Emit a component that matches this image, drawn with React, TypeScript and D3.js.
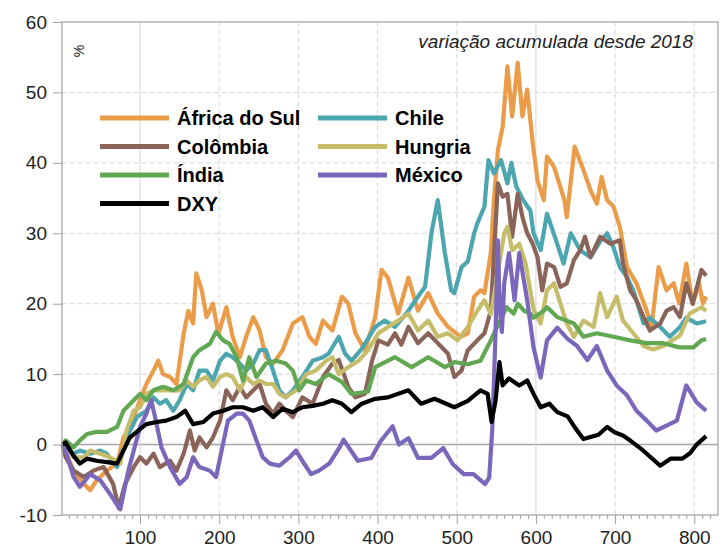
import React, { useEffect, useRef } from "react";
import * as d3 from "d3";

// observation number, cumulative change (%)
const africaDoSul: [number, number][] = [
  [2, 0], [16, -3.7], [29, -5.6], [37, -6.5], [45, -5.1], [58, -3.7], [71, -2.7], [79, 1], [87, 2.5],
  [100, 6.3], [108, 8.6], [117, 10.5], [123, 11.9], [129, 10], [138, 9.6], [146, 8.6], [155, 15.7],
  [161, 19], [167, 17.2], [171, 24.3], [178, 21.9], [184, 18.1], [192, 20], [199, 15.7], [209, 19.5],
  [217, 15.3], [226, 12.4], [234, 15.3], [243, 18.1], [251, 16.2], [259, 12.4], [268, 11.5], [280, 13.4],
  [293, 17.2], [305, 18.1], [314, 15.3], [322, 14.3], [331, 17.6], [343, 16.2], [355, 21], [363, 20],
  [372, 15.8], [384, 13.4], [397, 18.1], [405, 24.8], [413, 23.7], [426, 18.6], [439, 23.7], [451, 19],
  [464, 21.5], [476, 18.6], [489, 16.7], [505, 15.3], [514, 15.8], [522, 21], [530, 21.9], [535, 21.5],
  [543, 27.2], [547, 34.7], [552, 41.8], [558, 45.1], [564, 53.7], [570, 46.6], [577, 54.2], [583, 46.6],
  [589, 50.4], [596, 42.8], [602, 37.5], [610, 34.7], [614, 40.9], [623, 39.4], [636, 34.7], [639, 32.3],
  [649, 42.3], [660, 39], [669, 36.1], [677, 34.2], [683, 38], [690, 34.7], [698, 33.8], [706, 30.9],
  [715, 25.2], [727, 22.9], [740, 19], [746, 16.7], [755, 25.2], [765, 21.9], [774, 22.9], [781, 20],
  [790, 25.7], [798, 20], [806, 22.9], [811, 20], [815, 21],
];

const chile: [number, number][] = [
  [2, 0], [16, -1.3], [24, -0.85], [37, -1.3], [50, -0.85], [58, -1.3], [71, -3.2], [83, 1], [96, 3.9],
  [108, 4.8], [117, 6.7], [125, 5.8], [133, 6.3], [142, 4.8], [150, 6.3], [159, 8.6], [167, 7.7],
  [175, 10.5], [184, 10.5], [192, 9.1], [201, 11.9], [209, 12.9], [217, 12.4], [226, 11.5], [234, 10.5],
  [243, 11.5], [251, 13.4], [259, 13.4], [268, 10.5], [276, 7.7], [284, 6.7], [293, 7.7], [305, 9.6],
  [318, 11.9], [331, 12.4], [338, 12.9], [351, 15.3], [359, 12.9], [367, 11.9], [380, 13.6], [397, 16.7],
  [409, 17.6], [422, 16.7], [439, 19], [451, 21], [460, 22.4], [468, 30], [476, 34.7], [485, 27.2],
  [493, 21.9], [497, 21.5], [506, 25.2], [514, 26], [522, 30], [526, 31.4], [535, 33.8], [540, 40.4],
  [547, 38.5], [556, 40.4], [564, 37.1], [569, 40], [575, 36.7], [584, 34.7], [593, 33.2], [597, 30],
  [606, 27.6], [614, 32.8], [624, 29.5], [635, 25.7], [644, 30], [656, 27.6], [669, 26.6], [682, 29],
  [690, 30], [698, 28], [706, 25.2], [715, 23.8], [723, 21.9], [736, 17.2], [744, 18], [757, 16.7],
  [769, 15.3], [782, 16.7], [790, 18], [803, 17.2], [815, 17.5],
];

const colombia: [number, number][] = [
  [2, 0], [6, -1.8], [16, -3.7], [29, -4.6], [41, -3.7], [54, -3.2], [66, -5.6], [73, -9], [81, -5.6],
  [92, -3.2], [100, -1.8], [108, -2.7], [117, -1.3], [125, -3.2], [138, -2.3], [146, -3.7], [155, -1.3],
  [163, 2], [169, -0.85], [175, 1], [184, -0.4], [192, 1], [201, 3.4], [209, 7.7], [217, 6.3], [226, 8.2],
  [234, 6.7], [243, 7.7], [251, 8.6], [259, 5.8], [268, 4.4], [276, 5.8], [284, 4.8], [293, 3.9],
  [305, 6.7], [318, 5.8], [331, 9.6], [343, 11.5], [351, 12], [363, 8.2], [372, 6.7], [384, 7.2],
  [393, 11.9], [401, 14.8], [413, 14.2], [422, 15.8], [430, 14.2], [439, 16.7], [451, 14.4], [464, 15.8],
  [476, 14.4], [489, 12.9], [497, 9.6], [506, 10.5], [514, 13.4], [526, 14.8], [535, 15.8], [543, 19],
  [547, 27], [552, 37.1], [558, 35.2], [564, 35.6], [570, 29.5], [577, 35.6], [583, 32.3], [589, 30],
  [596, 28.5], [602, 26.6], [608, 21.9], [614, 25.7], [623, 25.2], [631, 22.4], [639, 22.9], [648, 26.2],
  [656, 27.6], [662, 29.5], [669, 26.6], [681, 29.5], [694, 28.5], [706, 29], [710, 25.7], [719, 21.9],
  [727, 20.5], [736, 18.1], [744, 16.2], [757, 17.2], [765, 19], [774, 19.5], [782, 18.1], [790, 22.9],
  [798, 20], [809, 24.8], [815, 24],
];

const hungria: [number, number][] = [
  [2, 0], [6, 0.3], [16, -1.8], [29, -1.8], [37, -0.85], [50, -1.3], [62, -1.8], [75, -2.7], [83, 2],
  [92, 4.8], [100, 5.3], [108, 7.2], [117, 7.7], [125, 7.7], [138, 7.7], [150, 7.7], [159, 9.1], [167, 8.2],
  [175, 9.1], [184, 9.6], [192, 8.2], [201, 9.6], [209, 10], [217, 9.6], [226, 7.7], [234, 9.6], [243, 8.6],
  [251, 9.1], [259, 8.6], [268, 8.6], [276, 7.2], [284, 6.7], [297, 7.7], [310, 10], [322, 10.5],
  [335, 11.9], [343, 12.4], [351, 10], [363, 11], [376, 11.9], [388, 13.4], [401, 15.8], [413, 16.7],
  [426, 17.6], [439, 18.6], [451, 16.2], [464, 17.6], [476, 15.3], [489, 15.8], [501, 14.8], [514, 16.7],
  [526, 19], [535, 20.5], [543, 18.5], [551, 23.8], [560, 30], [564, 30.9], [570, 27.6], [579, 28.5],
  [587, 25.7], [597, 19.2], [606, 17.2], [614, 21.9], [623, 22.9], [631, 20], [639, 17.2], [648, 15.3],
  [660, 17.6], [673, 16.7], [681, 21.5], [690, 18.1], [702, 21], [710, 17.6], [723, 15.8], [736, 14],
  [748, 13.5], [761, 14], [782, 15.5], [794, 18.6], [809, 19.5], [815, 19],
];

const india: [number, number][] = [
  [2, 0], [6, 0.6], [16, -0.4], [24, 0.6], [33, 1.5], [45, 1.8], [58, 1.8], [71, 2.5], [79, 4.8], [92, 6.3],
  [100, 7.2], [108, 6.3], [117, 7.7], [129, 8.2], [142, 7.7], [155, 8.6], [167, 12.4], [175, 13.4],
  [188, 14.3], [196, 16], [205, 14.8], [213, 14.3], [222, 12.4], [230, 9.1], [238, 12.4], [247, 9.6],
  [259, 11.5], [272, 11.9], [284, 11.5], [293, 10.5], [301, 7.7], [310, 9.1], [322, 8.6], [338, 10],
  [355, 8.9], [367, 7.2], [388, 7.5], [397, 11], [422, 12.4], [443, 11], [464, 12.4], [485, 11],
  [497, 11.7], [514, 11.4], [530, 11.9], [543, 14.8], [551, 16.7], [563, 19.5], [572, 18.6], [577, 20],
  [585, 19], [593, 18.6], [597, 18], [610, 19], [614, 19.5], [627, 18.1], [648, 17.2], [660, 15.3],
  [677, 15.8], [698, 15.3], [719, 14.8], [740, 14.4], [761, 14.4], [781, 13.8], [799, 13.8], [809, 14.8],
  [815, 15],
];

const mexico: [number, number][] = [
  [2, 0], [6, -0.85], [16, -4.6], [24, -6], [37, -4.2], [50, -5.1], [62, -7], [70, -8.4], [75, -9.2],
  [85, -3.8], [92, -0.85], [100, 2.5], [108, 4.4], [114, 6.3], [119, 3.9], [127, -0.4], [138, -3.2],
  [150, -5.6], [159, -4.6], [167, -1.8], [175, -3.2], [188, -3.7], [196, -4.6], [203, -0.85], [211, 3.4],
  [222, 4.4], [230, 4.4], [238, 3.4], [247, 0.6], [255, -1.8], [264, -2.7], [276, -3], [289, -1.8],
  [297, -0.85], [305, -2.3], [316, -4.2], [326, -3.7], [339, -2.7], [352, -0.4], [357, 0.7], [375, -2.3],
  [392, -1.9], [404, 0.5], [419, 2.6], [427, 0], [439, 0.9], [451, -1.9], [468, -1.9], [483, -0.5],
  [495, -2.8], [509, -4.2], [521, -4.2], [536, -5.6], [541, -4.7], [545, 2.4], [549, 15.8], [552, 29],
  [554, 20], [557, 16], [560, 22.9], [566, 27.2], [573, 20.5], [579, 27.2], [589, 20.5], [597, 13.8],
  [606, 9.5], [614, 14.8], [627, 16.6], [640, 15], [652, 14], [665, 12], [677, 14], [690, 10.5],
  [702, 8.4], [715, 7], [727, 4.8], [740, 3.4], [752, 2], [765, 2.7], [778, 3.4], [790, 8.4], [803, 6],
  [815, 4.8],
];

const dxy: [number, number][] = [
  [2, 0], [6, 0.3], [16, -1.6], [24, -2.7], [33, -2], [45, -2.3], [58, -2.5], [71, -2.7], [79, -0.85],
  [87, 1], [100, 2.2], [108, 2.9], [121, 3.2], [133, 3.4], [146, 3.9], [157, 4.8], [167, 2.9], [180, 3.2],
  [192, 4.4], [205, 4.8], [217, 5.3], [230, 5.3], [243, 4.8], [255, 5.3], [268, 3.9], [280, 5.1],
  [293, 4.6], [305, 5.3], [318, 5.5], [331, 5.8], [343, 6.3], [355, 5.8], [367, 4.6], [380, 5.8],
  [397, 6.5], [413, 6.7], [439, 7.7], [455, 5.8], [472, 6.5], [497, 5.3], [514, 6.2], [530, 7.7],
  [539, 7.2], [544, 3.2], [549, 6.2], [554, 11.7], [558, 8.4], [566, 9.4], [579, 8.4], [589, 9.1],
  [597, 7.2], [606, 5.3], [617, 5.8], [627, 4.6], [640, 4], [650, 2.3], [660, 0.8], [679, 1.4], [690, 2.5],
  [700, 1.7], [710, 1.3], [720, 0.5], [735, -0.8], [750, -2.3], [757, -3], [770, -2], [785, -2],
  [795, -1.2], [803, 0], [815, 1.2],
];

const seriesNames = ["África do Sul", "Chile", "Colômbia", "Hungria", "Índia", "México", "DXY"];
const seriesColors = ["#EA9C48", "#4BA6B0", "#8A6458", "#C6BD6B", "#62A853", "#7A67BC", "#000000"];
const seriesData = [africaDoSul, chile, colombia, hungria, india, mexico, dxy];

const yTicks = [-10, 0, 10, 20, 30, 40, 50, 60];
const xTicks = [100, 200, 300, 400, 500, 600, 700, 800];
const solidXGrid = [100, 600];

export default function App() {
  const ref = useRef<SVGSVGElement>(null);
  const width = 725;
  const height = 548;

  useEffect(() => {
    const svg = d3.select(ref.current).attr("width", width).attr("height", height);
    svg.selectAll("*").remove();

    const left = 62, right = 718, top = 22, bottom = 515;
    const x = d3.scaleLinear().domain([1.4, 830]).range([left, right]);
    const y = d3.scaleLinear().domain([-10, 60]).range([bottom, top]);

    svg.append("rect").attr("width", width).attr("height", height).attr("fill", "#fff");

    // grid
    const grid = svg.append("g");
    yTicks.filter((t) => t > -10 && t < 60).forEach((t) => {
      grid.append("line")
        .attr("x1", left).attr("x2", right)
        .attr("y1", y(t)).attr("y2", y(t))
        .attr("stroke", t === 0 ? "#a6a6a6" : "#d6d6d6")
        .attr("stroke-width", t === 0 ? 1.5 : 1)
        .attr("stroke-dasharray", t === 0 ? null : "5,3");
    });
    xTicks.forEach((t) => {
      grid.append("line")
        .attr("x1", x(t)).attr("x2", x(t))
        .attr("y1", top).attr("y2", bottom)
        .attr("stroke", "#d6d6d6")
        .attr("stroke-dasharray", solidXGrid.includes(t) ? null : "5,3");
    });

    // series
    const line = d3.line<[number, number]>()
      .x((d) => x(d[0]))
      .y((d) => y(d[1]))
      .curve(d3.curveLinear);
    seriesData.forEach((data, i) => {
      svg.append("path")
        .datum(data)
        .attr("d", line)
        .attr("fill", "none")
        .attr("stroke", seriesColors[i])
        .attr("stroke-width", 4.2)
        .attr("stroke-linejoin", "round");
    });

    // frame
    svg.append("rect")
      .attr("x", left).attr("y", top)
      .attr("width", right - left).attr("height", bottom - top)
      .attr("fill", "none").attr("stroke", "#a0a0a0").attr("stroke-width", 1.2);

    // y axis
    const yAxis = svg.append("g")
      .attr("transform", `translate(${left},0)`)
      .call(d3.axisLeft(y).tickValues(yTicks).tickSize(9).tickPadding(6).tickFormat((d) => `${d}`));
    yAxis.select(".domain").remove();
    yAxis.selectAll("line").attr("stroke", "#a0a0a0");
    yAxis.selectAll("text")
      .attr("fill", "#222")
      .attr("font-size", "19px")
      .attr("font-family", "Liberation Sans, Arial, sans-serif");

    // x axis, minor ticks every 10
    const minor = d3.range(10, 830, 10).filter((t) => t % 100 !== 0);
    const xMinor = svg.append("g")
      .attr("transform", `translate(0,${bottom})`)
      .call(d3.axisBottom(x).tickValues(minor).tickSize(4).tickFormat(() => ""));
    xMinor.select(".domain").remove();
    xMinor.selectAll("line").attr("stroke", "#a0a0a0");

    const xAxis = svg.append("g")
      .attr("transform", `translate(0,${bottom})`)
      .call(d3.axisBottom(x).tickValues(xTicks).tickSize(9).tickPadding(7).tickFormat((d) => `${d}`));
    xAxis.select(".domain").remove();
    xAxis.selectAll("line").attr("stroke", "#a0a0a0");
    xAxis.selectAll("text")
      .attr("fill", "#222")
      .attr("font-size", "19px")
      .attr("font-family", "Liberation Sans, Arial, sans-serif");

    // unit and subtitle
    svg.append("text")
      .attr("transform", "translate(84,51) rotate(-90)")
      .attr("text-anchor", "middle")
      .attr("font-size", "14px")
      .attr("font-family", "Liberation Sans, Arial, sans-serif")
      .attr("fill", "#222")
      .text("%");
    svg.append("text")
      .attr("x", 693).attr("y", 48)
      .attr("text-anchor", "end")
      .attr("font-size", "19px")
      .attr("font-style", "italic")
      .attr("font-family", "Liberation Sans, Arial, sans-serif")
      .attr("fill", "#222")
      .text("variação acumulada desde 2018");

    // legend
    const legend = svg.append("g");
    seriesNames.forEach((name, i) => {
      const col = i % 2;
      const row = Math.floor(i / 2);
      const lx = col === 0 ? 100 : 318;
      const ly = 118 + row * 28.5;
      legend.append("rect")
        .attr("x", lx).attr("y", ly - 2.5)
        .attr("width", 69).attr("height", 5)
        .attr("fill", seriesColors[i]);
      legend.append("text")
        .attr("x", lx + 77).attr("y", ly + 7)
        .attr("font-size", "20px")
        .attr("font-weight", "700")
        .attr("font-family", "Liberation Sans, Arial, sans-serif")
        .attr("fill", "#000")
        .text(name);
    });
  }, []);

  return <svg ref={ref} style={{ position: "absolute", left: 0, top: 0 }} />;
}
